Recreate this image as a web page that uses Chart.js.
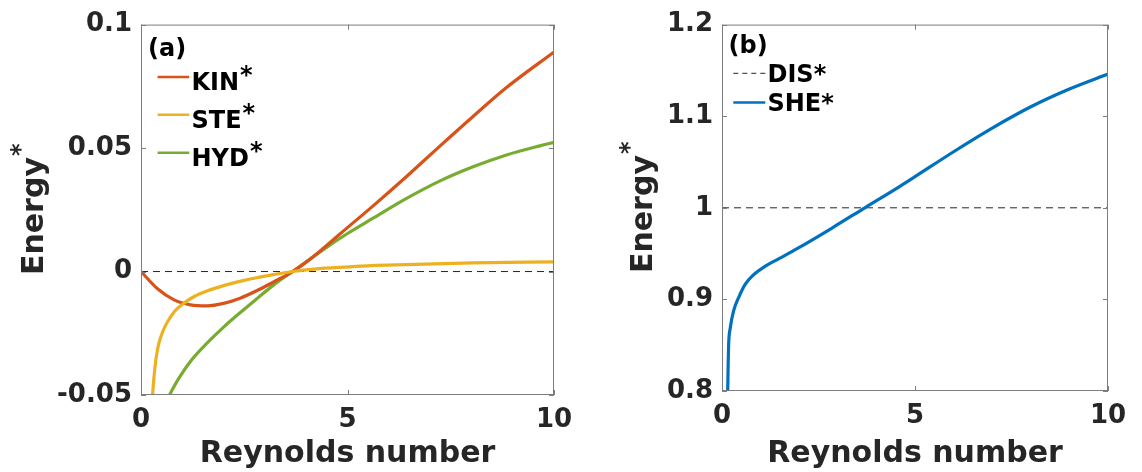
<!DOCTYPE html>
<html>
<head>
<meta charset="utf-8">
<script src="https://cdn.jsdelivr.net/npm/chart.js@4.4.1/dist/chart.umd.min.js"></script>
<style>
  body { margin: 0; background: #fff; width: 1142px; height: 472px; overflow: hidden; position: relative; }
  canvas { position: absolute; top: 0; }
  #left { left: 0; }
  #right { left: 571px; }
</style>
</head>
<body>
<canvas id="left" width="600" height="472"></canvas>
<canvas id="right" width="571" height="472"></canvas>
<script>
// ---- data ----
// panel (a)
const kinRe  = [0, 0.4, 0.8, 1.2, 1.6, 2.0, 2.4, 2.8, 3.2, 3.67, 4.0, 4.4, 4.81, 5.62, 6.43, 7.23, 8.04, 8.85, 10];
const kinVal = [0, -0.0070, -0.0115, -0.0135, -0.0139, -0.0129, -0.0108, -0.0078, -0.0043, 0, 0.0038, 0.0092, 0.0151, 0.0266, 0.0385, 0.0507, 0.0628, 0.0745, 0.0889];

const steRe  = [0.22, 0.28, 0.33, 0.40, 0.50, 0.61, 0.81, 1.05, 1.3, 1.61, 2.0, 2.42, 2.8, 3.23, 3.67, 4.2, 5.06, 5.57, 6.43, 8.04, 10];
const steVal = [-0.068, -0.050, -0.0400, -0.0315, -0.0255, -0.0213, -0.0162, -0.0127, -0.0100, -0.0078, -0.0057, -0.0039, -0.0025, -0.0012, 0, 0.0010, 0.0019, 0.0024, 0.0028, 0.0035, 0.0039];

const hydRe  = [0.6, 0.69, 0.9, 1.21, 1.61, 2.02, 2.42, 2.82, 3.23, 3.67, 4.44, 5.0, 5.62, 6.43, 7.23, 8.04, 8.85, 9.66, 10];
const hydVal = [-0.053, -0.050, -0.0437, -0.0361, -0.0288, -0.0222, -0.0164, -0.0108, -0.0052, 0, 0.0092, 0.0154, 0.0216, 0.0296, 0.0366, 0.0424, 0.0472, 0.0509, 0.0523];

const zeroRe  = [0, 10];
const zeroVal = [0, 0];

// panel (b)
const sheRe  = [0.14, 0.148, 0.16, 0.172, 0.215, 0.30, 0.43, 0.60, 0.78, 1.12, 1.5, 1.98, 2.85, 3.71, 4.61, 5.0, 6.0, 7.0, 8.0, 9.0, 10];
const sheVal = [0.77, 0.80, 0.83, 0.851, 0.869, 0.8875, 0.902, 0.9165, 0.9255, 0.9363, 0.9450, 0.9562, 0.9779, 1.0003, 1.0235, 1.0340, 1.0612, 1.0870, 1.1103, 1.1297, 1.1460];

const disRe  = [0, 10];
const disVal = [1, 1];

// axis ticks
const xTicks  = [0, 5, 10];
const yTicksA = [-0.05, 0, 0.05, 0.1];
const yTicksB = [0.8, 0.9, 1, 1.1, 1.2];

// ---- look ----
const FONT = "'DejaVu Sans', sans-serif";
const INK = "#262626";

function pairs(xs, ys) {
  return xs.map((x, i) => ({ x, y: ys[i] }));
}

function fmt(v) {
  return String(+v.toFixed(3));
}

function curve(label, xs, ys, color, order, extra) {
  return Object.assign({
    label,
    data: pairs(xs, ys),
    borderColor: color,
    backgroundColor: color,
    borderWidth: 3.2,
    pointRadius: 0,
    cubicInterpolationMode: "monotone",
    clip: 0,
    order,
    inLegend: true
  }, extra || {});
}

// box with inward ticks, panel tag, legend inside the axes, y title with superscript
const panelPlugin = {
  id: "panel",
  afterDraw(chart, args, o) {
    const { ctx, chartArea: a, scales } = chart;
    ctx.save();

    // box and ticks
    ctx.strokeStyle = "#7d7d7d";
    ctx.lineWidth = 1;
    ctx.strokeRect(a.left + 0.5, a.top + 0.5, a.width - 1, a.height - 1);
    const tl = 5;
    ctx.beginPath();
    scales.x.ticks.forEach(t => {
      const px = Math.round(scales.x.getPixelForValue(t.value)) + 0.5;
      ctx.moveTo(px, a.bottom); ctx.lineTo(px, a.bottom - tl);
      ctx.moveTo(px, a.top); ctx.lineTo(px, a.top + tl);
    });
    scales.y.ticks.forEach(t => {
      const py = Math.round(scales.y.getPixelForValue(t.value)) + 0.5;
      ctx.moveTo(a.left, py); ctx.lineTo(a.left + tl, py);
      ctx.moveTo(a.right, py); ctx.lineTo(a.right - tl, py);
    });
    ctx.stroke();

    // panel tag
    ctx.fillStyle = "#000";
    ctx.font = "bold 24px " + FONT;
    ctx.textAlign = "left";
    ctx.textBaseline = "alphabetic";
    ctx.fillText(o.tag, a.left + o.tagDx, a.top + o.tagDy);

    // legend
    const items = chart.data.datasets.filter(d => d.inLegend);
    items.forEach((d, i) => {
      const ly = a.top + o.rowDy + i * o.rowGap;
      ctx.strokeStyle = d.borderColor;
      ctx.lineWidth = d.borderWidth > 1 ? 2.5 : 1;
      ctx.setLineDash(d.legendDash || []);
      ctx.beginPath();
      ctx.moveTo(a.left + o.lineDx, ly);
      ctx.lineTo(a.left + o.lineDx + o.lineLen, ly);
      ctx.stroke();
      ctx.setLineDash([]);

      ctx.fillStyle = "#000";
      ctx.font = "bold 24px " + FONT;
      const tx = a.left + o.textDx;
      const ty = ly + o.baseOff;
      if (o.supStar && d.label.endsWith("*")) {
        const base = d.label.slice(0, -1);
        ctx.fillText(base, tx, ty);
        ctx.fillText("*", tx + ctx.measureText(base).width + 1, ty - 7);
      } else {
        ctx.fillText(d.label, tx, ty);
      }
    });

    // y title "Energy" with superscript star
    const cy = (a.top + a.bottom) / 2;
    ctx.translate(o.yTitleX, cy);
    ctx.rotate(-Math.PI / 2);
    ctx.fillStyle = INK;
    ctx.font = "bold 30px " + FONT;
    const wMain = ctx.measureText("Energy").width;
    ctx.font = "bold 24px " + FONT;
    const wStar = ctx.measureText("*").width;
    const start = -(wMain + wStar) / 2;
    ctx.font = "bold 30px " + FONT;
    ctx.fillText("Energy", start, 0);
    ctx.font = "bold 24px " + FONT;
    ctx.fillText("*", start + wMain + 1, -15);

    ctx.restore();
  }
};

function makeOptions(yMin, yMax, yTicks, yWidth, xHeight, pad, panel) {
  const tickFont = { family: FONT, size: 26, weight: "bold" };
  return {
    responsive: false,
    animation: false,
    layout: { padding: pad },
    plugins: { legend: { display: false }, tooltip: { enabled: false }, panel },
    scales: {
      x: {
        type: "linear",
        min: 0,
        max: 10,
        afterBuildTicks: s => { s.ticks = xTicks.map(v => ({ value: v })); },
        afterFit: s => { s.height = xHeight; },
        grid: { display: false, drawTicks: false },
        border: { display: false },
        ticks: { padding: 10, color: INK, font: tickFont, callback: fmt, maxRotation: 0 },
        title: {
          display: true,
          text: "Reynolds number",
          color: INK,
          font: { family: FONT, size: 30, weight: "bold" },
          padding: { top: 0, bottom: 0 }
        }
      },
      y: {
        type: "linear",
        min: yMin,
        max: yMax,
        afterBuildTicks: s => { s.ticks = yTicks.map(v => ({ value: v })); },
        afterFit: s => { s.width = yWidth; },
        grid: { display: false, drawTicks: false },
        border: { display: false },
        ticks: { padding: 9, color: INK, font: tickFont, callback: fmt }
      }
    }
  };
}

new Chart(document.getElementById("left"), {
  type: "line",
  data: {
    datasets: [
      curve("KIN*", kinRe, kinVal, "#D95319", 2),
      curve("STE*", steRe, steVal, "#EDB120", 1),
      curve("HYD*", hydRe, hydVal, "#77AC30", 3),
      curve("", zeroRe, zeroVal, INK, 4, { borderWidth: 1, borderDash: [7, 5], inLegend: false, cubicInterpolationMode: "default" })
    ]
  },
  options: makeOptions(-0.05, 0.1, yTicksA, 141, 77, { top: 22, right: 46, left: 0, bottom: 0 }, {
    tag: "(a)", tagDx: 7, tagDy: 31,
    rowDy: 52.3, rowGap: 37.9, lineDx: 16.6, lineLen: 31.6, textDx: 50.5, baseOff: 13,
    supStar: true, yTitleX: 43
  }),
  plugins: [panelPlugin]
});

new Chart(document.getElementById("right"), {
  type: "line",
  data: {
    datasets: [
      curve("DIS*", disRe, disVal, INK, 2, { borderWidth: 1, borderDash: [7, 5], legendDash: [5, 4], cubicInterpolationMode: "default" }),
      curve("SHE*", sheRe, sheVal, "#0072BD", 1)
    ]
  },
  options: makeOptions(0.8, 1.2, yTicksB, 151, 81, { top: 23, right: 34, left: 0, bottom: 0 }, {
    tag: "(b)", tagDx: 6.5, tagDy: 28,
    rowDy: 48.7, rowGap: 29.3, lineDx: 11.3, lineLen: 32, textDx: 45.5, baseOff: 8.5,
    supStar: false, yTitleX: 81
  }),
  plugins: [panelPlugin]
});
</script>
</body>
</html>
